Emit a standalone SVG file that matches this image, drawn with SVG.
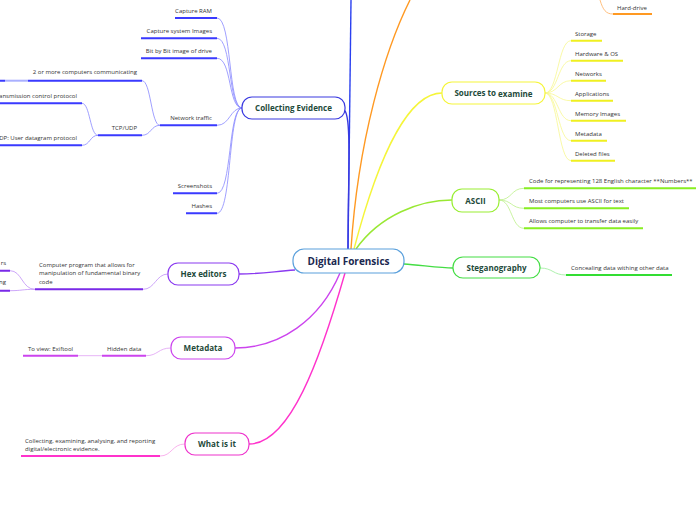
<svg xmlns="http://www.w3.org/2000/svg" width="696" height="520" viewBox="0 0 696 520">
<style>
.lbl{font-family:"Open Sans","Noto Sans",sans-serif;font-size:6px;fill:#333}
.nl{font-family:"Open Sans","Noto Sans",sans-serif;font-size:8px;font-weight:bold;fill:#1e4a3a;text-anchor:middle}
.box{fill:#fff;stroke-width:1.2}
.ul{stroke-width:2;fill:none}
.cn{stroke-width:0.8;fill:none}
.br{stroke-width:1.4;fill:none}
</style>
<rect width="696" height="520" fill="#fff"/>
<g id="connectors">
<path class="br" stroke="#2a40f0" d="M348,249 C349,160 350,80 351,0"/>
<path class="br" stroke="#ff9922" d="M351,249 C358,140 385,50 410,0"/>
<path class="br" stroke="#f5f53a" d="M354,249 C380,150 410,93 442,93"/>
<path class="br" stroke="#3a3ae0" d="M344,110 C352,114 348,180 348,249"/>
<path class="br" stroke="#99e833" d="M356,249 C380,215 420,200 452,200"/>
<path class="br" stroke="#44dd44" d="M404,264 C420,265 440,268 453,268"/>
<path class="br" stroke="#8a3af0" d="M295,270 C270,272 260,274 239,274"/>
<path class="br" stroke="#cc44ee" d="M340,273 C320,320 280,348 235,348"/>
<path class="br" stroke="#ff33cc" d="M345,273 C320,360 290,444 249,444"/>
<path class="cn" stroke="#8888ff" d="M217,18 C232,18 228,108 242,108 M217,38.3 C232,38.3 228,108 242,108 M217,58.3 C232,58.3 228,108 242,108 M217,125.3 C230,125.3 230,108 242,108 M217,193.3 C232,193.3 228,108 242,108 M217,213.3 C232,213.3 228,108 242,108"/>
<path class="cn" stroke="#8888ff" d="M142,80.7 C151,80.7 151,125.3 160,125.3 M142,135.3 C151,135.3 151,125.3 160,125.3 M82,103.3 C90,103.3 90,135.3 98,135.3 M82,145.3 C90,145.3 90,135.3 98,135.3"/>
<path class="cn" stroke="#ffb060" d="M600,0 C603,10 606,14 613,14"/>
<path class="cn" stroke="#f8f890" d="M545,93 C558,93 558,40.7 571,40.7 M545,93 C558,93 558,60.7 571,60.7 M545,93 C558,93 558,80.7 571,80.7 M545,93 C558,93 558,100.7 571,100.7 M545,93 C558,93 558,120.7 571,120.7 M545,93 C558,93 558,140.7 571,140.7 M545,93 C558,93 558,160.7 571,160.7"/>
<path class="cn" stroke="#bbf088" d="M499,200 C512,200 511,188.3 524,188.3 M499,200 C512,200 511,208.3 524,208.3 M499,200 C512,200 511,228.3 524,228.3"/>
<path class="cn" stroke="#99ee99" d="M540,268 C553,268 553,275 566,275"/>
<path class="cn" stroke="#c090f8" d="M143,289.3 C155,289.3 156,274 168,274 M10,270.7 C22,270.7 22,289.3 35,289.3 M10,290.7 C22,290.7 22,289.3 35,289.3"/>
<path class="cn" stroke="#e0a0f4" d="M146,355.7 C158,355.7 158,348 171,348 M78,355.7 L102,355.7"/>
<path class="cn" stroke="#f8a0e8" d="M160,456 C172,456 172,444 185,444"/>
</g>
<g id="center">
<rect class="box" x="293" y="249" width="111" height="24" rx="11" stroke="#5aa0dc"/>
<text x="348.5" y="265" style="font-family:'Open Sans','Noto Sans',sans-serif;font-size:10px;font-weight:bold;fill:#1a2850;text-anchor:middle">Digital Forensics</text>
</g>
<g id="collecting-evidence">
<rect class="box" x="242" y="97" width="103" height="22" rx="10" stroke="#3a3ae0"/>
<text class="nl" x="293.5" y="111">Collecting Evidence</text>
</g>
<g id="ce-children">
<path class="ul" stroke="#3a3aff" d="M175,18 H217 M141,38.3 H217 M141,58.3 H217 M160,125.3 H217 M173,193.3 H217 M186,213.3 H217"/>
<text class="lbl" x="212" y="13" text-anchor="end">Capture RAM</text>
<text class="lbl" x="212" y="33" text-anchor="end">Capture system Images</text>
<text class="lbl" x="212" y="53" text-anchor="end">Bit by Bit image of drive</text>
<text class="lbl" x="212" y="119.5" text-anchor="end">Network traffic</text>
<text class="lbl" x="212" y="188" text-anchor="end">Screenshots</text>
<text class="lbl" x="212" y="208" text-anchor="end">Hashes</text>
</g>
<g id="network-children">
<path class="ul" stroke="#3a3aff" d="M0,80.7 H5 M28,80.7 H142 M98,135.3 H142 M0,103.3 H82 M0,145.3 H82"/>
<path class="ul" stroke="#aab0ff" d="M5,80.7 H28"/>
<text class="lbl" x="137" y="74" text-anchor="end">2 or more computers communicating</text>
<text class="lbl" x="137" y="129.5" text-anchor="end">TCP/UDP</text>
<text class="lbl" x="77" y="98" text-anchor="end">ansmission control protocol</text>
<text class="lbl" x="77" y="140" text-anchor="end">DP: User datagram protocol</text>
</g>
<g id="hard-drive">
<path class="ul" stroke="#ff9922" d="M613,14 H652"/>
<text class="lbl" x="617" y="9.5">Hard-drive</text>
</g>
<g id="sources">
<rect class="box" x="442" y="82" width="103" height="22" rx="10" stroke="#f5f53a"/>
<text class="nl" x="493.5" y="96">Sources to <tspan dy="1">examine</tspan></text>
</g>
<g id="sources-children">
<path class="ul" stroke="#f0f020" d="M571,40.7 H602 M571,60.7 H623 M571,80.7 H606 M571,100.7 H613 M571,120.7 H626 M571,140.7 H607 M571,160.7 H615"/>
<text class="lbl" x="575" y="36">Storage</text>
<text class="lbl" x="575" y="56">Hardware &amp; OS</text>
<text class="lbl" x="575" y="76">Networks</text>
<text class="lbl" x="575" y="96">Applications</text>
<text class="lbl" x="575" y="116">Memory Images</text>
<text class="lbl" x="575" y="136">Metadata</text>
<text class="lbl" x="575" y="156">Deleted files</text>
</g>
<g id="ascii">
<rect class="box" x="452" y="189" width="47" height="23" rx="10" stroke="#99ee33"/>
<text class="nl" x="475.5" y="203.5">ASCII</text>
</g>
<g id="ascii-children">
<path class="ul" stroke="#88ee22" d="M524,188.3 H696 M524,208.3 H629 M524,228.3 H643"/>
<text class="lbl" x="529" y="183">Code for representing 128 English character **Numbers**</text>
<text class="lbl" x="529" y="203">Most computers use ASCII for text</text>
<text class="lbl" x="529" y="223">Allows computer to transfer data easily</text>
</g>
<g id="steganography">
<rect class="box" x="453" y="257" width="87" height="21" rx="10" stroke="#44dd44"/>
<text class="nl" x="496.5" y="270.5">Steganography</text>
</g>
<g id="steg-children">
<path class="ul" stroke="#33dd33" d="M566,275 H672"/>
<text class="lbl" x="571" y="270">Concealing data withing other data</text>
</g>
<g id="hex-editors">
<rect class="box" x="168" y="263" width="71" height="22" rx="10" stroke="#8a3af0"/>
<text class="nl" x="203.5" y="277">Hex editors</text>
</g>
<g id="hex-children">
<path class="ul" stroke="#7a2ae8" d="M35,289.3 H143 M0,270.7 H10 M0,290.7 H10"/>
<text class="lbl" x="39" y="267">Computer program that allows for</text>
<text class="lbl" x="39" y="275.3">manipulation of fundamental binary</text>
<text class="lbl" x="39" y="283.7">code</text>
<text class="lbl" x="6" y="265" text-anchor="end">rs</text>
<text class="lbl" x="6" y="284" text-anchor="end">ng</text>
</g>
<g id="metadata">
<rect class="box" x="171" y="337" width="64" height="22" rx="10" stroke="#cc44ee"/>
<text class="nl" x="203" y="351">Metadata</text>
</g>
<g id="metadata-children">
<path class="ul" stroke="#cc44ee" d="M102,355.7 H146 M23,355.7 H78"/>
<text class="lbl" x="107" y="350.5">Hidden data</text>
<text class="lbl" x="28" y="350.5">To view: Exiftool</text>
</g>
<g id="what-is-it">
<rect class="box" x="185" y="433" width="64" height="22" rx="10" stroke="#ee33cc"/>
<text class="nl" x="217" y="447">What is it</text>
</g>
<g id="what-children">
<path class="ul" stroke="#ff33cc" d="M21,456 H160"/>
<text class="lbl" x="25" y="442.5">Collecting, examining, analysing, and reporting</text>
<text class="lbl" x="25" y="450.5">digital/electronic evidence.</text>
</g>
</svg>
